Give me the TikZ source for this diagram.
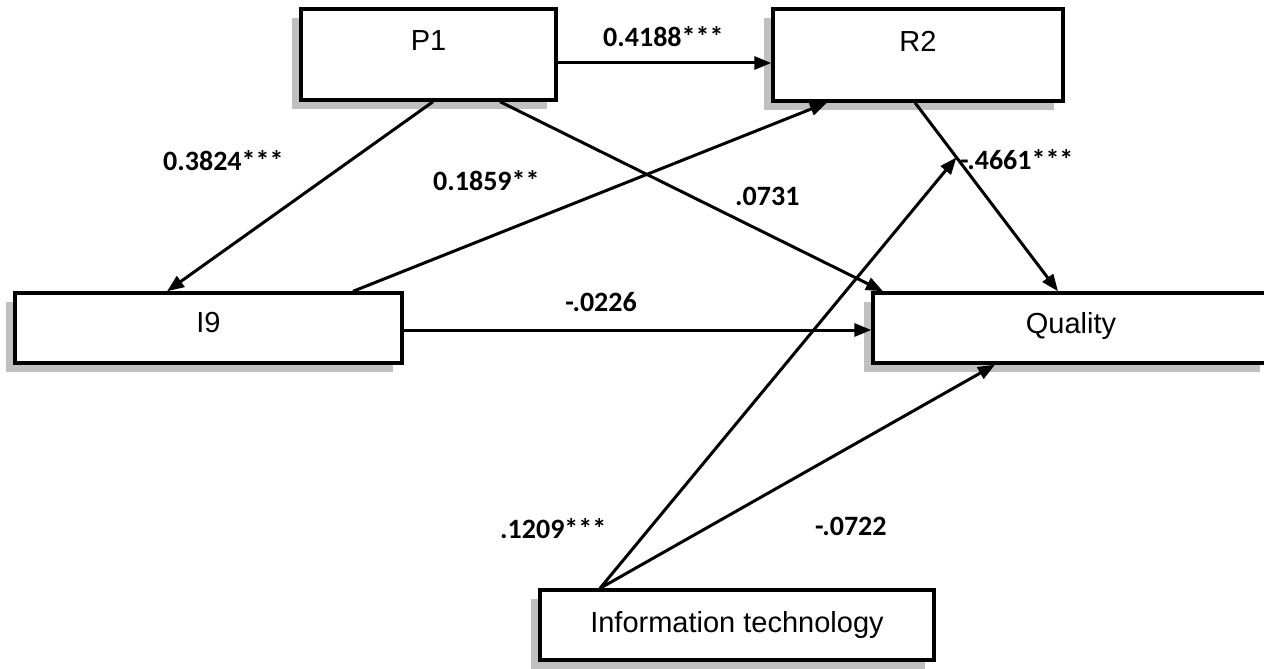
\documentclass[tikz,border=0pt]{standalone}
\usepackage{fontspec}
\setmainfont{Liberation Sans}
\newfontfamily\coeffont{Carlito}
\usetikzlibrary{arrows.meta,shadows,calc}
\definecolor{shadowgray}{RGB}{192,192,192}
\tikzset{
  varbox/.style={draw=black, line width=3.4pt, fill=white, inner sep=0pt,
    drop shadow={shadow xshift=-9pt, shadow yshift=-9pt, opacity=1, fill=shadowgray}},
  varname/.style={anchor=base, inner sep=0pt, font=\fontsize{29}{32}\selectfont},
  coef/.style={inner sep=0pt, font=\coeffont\bfseries\fontsize{28}{30}\selectfont},
  link/.style={line width=3pt, -{Triangle[length=17pt,width=13pt]}},
}
\begin{document}
\begin{tikzpicture}[x=1pt, y=-1pt]
\useasboundingbox (0,0) rectangle (1264,669);

% variables
\node[varbox, minimum width=255pt, minimum height=91pt] (P1) at (428.5,54.5) {};
\node[varname] (P1t) at (428.5,51) {P1};
\node[varbox, minimum width=290pt, minimum height=92pt] (R2) at (918,55) {};
\node[varname] (R2t) at (918,52) {R2};
\node[varbox, minimum width=387pt, minimum height=70pt] (I9) at (208.5,328) {};
\node[varname] (I9t) at (208.5,332) {I9};
\node[varbox, minimum width=396pt, minimum height=70pt] (Q) at (1071,328) {};
\node[varname] (Qt) at (1071,333) {Quality};
\node[varbox, minimum width=394pt, minimum height=70pt] (IT) at (737,625) {};
\node[varname] (ITt) at (737,632) {Information technology};

% paths
\draw[link] ([yshift=-8.5pt]P1.east) -- ([yshift=-8.5pt]P1.east -| R2.west);
\draw[link] ([xshift=4.5pt]P1.south) -- ([xshift=-41.5pt]I9.north);
\draw[link] ([xshift=71.5pt]P1.south) -- ([xshift=-188pt]Q.north);
\draw[link] ([xshift=144.5pt]I9.north) -- ([xshift=-91pt]R2.south);
\draw[link] ([yshift=-2pt]I9.east) -- ([yshift=-2pt]I9.east -| Q.west);
\draw[link] ([xshift=-3pt]R2.south) -- ([xshift=-13pt]Q.north);
\coordinate (mod) at ($([xshift=-3pt]R2.south)!0.29!([xshift=-13pt]Q.north)$);
\draw[link] ([xshift=-137pt]IT.north) -- ([xshift=-76pt]Q.south);
\draw[link] ([xshift=-137pt]IT.north) -- (mod);

% coefficients
\node[coef, anchor=base west] (b1) at (603,47) {0.4188***};
\node[coef, anchor=base west] (b2) at (163,170) {0.3824***};
\node[coef, anchor=base west] (b3) at (433,190) {0.1859**};
\node[coef, anchor=base west] (b4) at (735,205) {.0731};
\node[coef, anchor=base west] (b5) at (960,169) {-.4661***};
\node[coef, anchor=base east] (b6) at (637,311) {-.0226};
\node[coef, anchor=base west] (b7) at (500,538) {.1209***};
\node[coef, anchor=base west] (b8) at (815,535) {-.0722};
\end{tikzpicture}
\end{document}
